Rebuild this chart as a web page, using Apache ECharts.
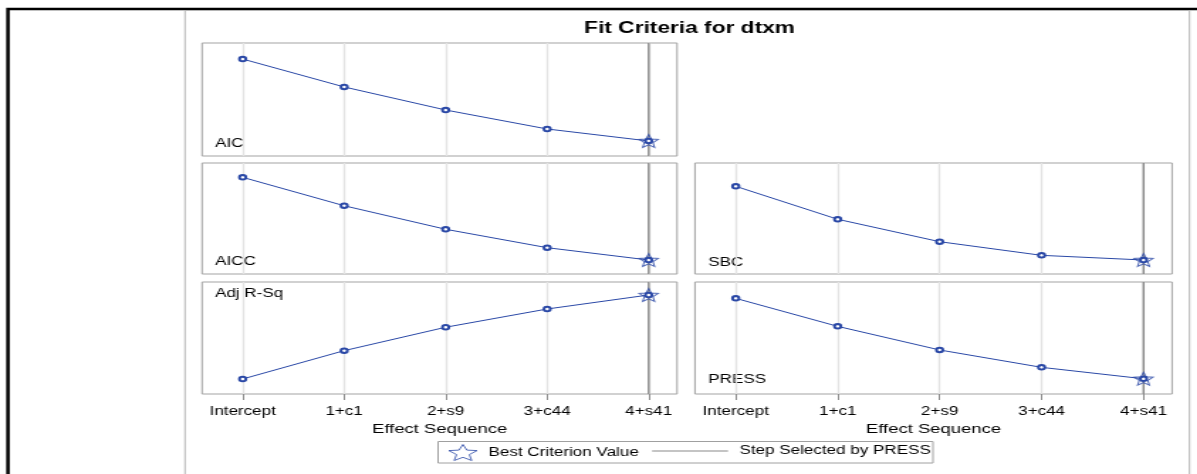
<!DOCTYPE html>
<html>
<head>
<meta charset="utf-8">
<script src="https://cdn.jsdelivr.net/npm/echarts@6/dist/echarts.min.js"></script>
<style>
html, body { margin: 0; padding: 0; background: #fff; overflow: hidden; }
#wrap { width: 1197px; height: 474px; overflow: hidden; }
/* the reference picture is stretched sideways, so the chart is drawn narrow and widened */
#container { width: 843px; height: 474px; transform: scaleX(1.42); transform-origin: 0 0; }
</style>
</head>
<body>
<div id="wrap"><div id="container"></div></div>
<script>
// data (relative scale, no y axis is shown)
var steps = ['Intercept', '1+c1', '2+s9', '3+c44', '4+s41'];
var aicValues = [85.8, 61.1, 40.7, 23.9, 13.3];
var aiccValues = [87.1, 61.5, 40.3, 23.7, 12.6];
var sbcValues = [79.0, 49.3, 29.1, 16.8, 12.6];
var adjRSqValues = [13.4, 38.7, 59.6, 75.9, 88.4];
var pressValues = [85.4, 60.4, 39.3, 23.8, 13.6];

var dom = document.getElementById('container');
var myChart = echarts.init(dom);

var blue = '#2a48a6';
var font = "'Liberation Sans', Arial, sans-serif";
var star = 'path://M50,0L63.2,31.8L97.6,34.5L71.4,57L79.4,90.5L50,72.5L20.6,90.5L28.6,57L2.4,34.5L36.8,31.8Z';

function argBest(arr, useMax) {
    var b = 0;
    for (var i = 1; i < arr.length; i++) {
        if (useMax ? arr[i] > arr[b] : arr[i] < arr[b]) b = i;
    }
    return b;
}
var selected = argBest(pressValues, false);

// panels: label, values, which end is best, position
var panels = [
    { name: 'AIC', values: aicValues, max: false, left: 142.3, top: 43, width: 334.5, height: 113, bottom: false, lx: 151.4, ly: 143.3 },
    { name: 'AICC', values: aiccValues, max: false, left: 142.3, top: 163, width: 334.5, height: 111, bottom: false, lx: 151.4, ly: 261.7 },
    { name: 'SBC', values: sbcValues, max: false, left: 489.4, top: 163, width: 336, height: 111, bottom: false, lx: 498.8, ly: 262.7 },
    { name: 'Adj R-Sq', values: adjRSqValues, max: true, left: 142.3, top: 282, width: 334.5, height: 112, bottom: true, lx: 151.4, ly: 294 },
    { name: 'PRESS', values: pressValues, max: false, left: 489.4, top: 282, width: 336, height: 112, bottom: true, lx: 498.8, ly: 380 }
];

var grids = [], xAxes = [], yAxes = [], series = [];
var graphics = [
    { type: 'rect', shape: { x: 5.6, y: 9, width: 900, height: 600 }, style: { fill: 'none', stroke: '#000', lineWidth: 2.5 }, silent: true },
    { type: 'rect', shape: { x: 130.3, y: 10.5, width: 707.4, height: 500 }, style: { fill: 'none', stroke: '#b4b4b4', lineWidth: 1 }, silent: true },
    { type: 'text', x: 485.6, y: 28.5, style: { text: 'Fit Criteria for dtxm', font: 'bold 16px ' + font, fill: '#000', align: 'center', verticalAlign: 'middle' }, silent: true },
    { type: 'rect', shape: { x: 308.5, y: 441.5, width: 348.5, height: 21.5 }, style: { fill: 'none', stroke: '#a0a0a0', lineWidth: 1 }, silent: true }
];

panels.forEach(function (p, i) {
    grids.push({ left: p.left, top: p.top, width: p.width, height: p.height, show: true, borderColor: '#a3a3a3', borderWidth: 1 });
    xAxes.push({
        gridIndex: i, type: 'value', min: -0.4, max: 4.28,
        axisLine: { show: false },
        axisTick: { show: p.bottom, length: 6, customValues: [0, 1, 2, 3, 4], lineStyle: { color: '#8c8c8c', width: 1 } },
        axisLabel: { show: p.bottom, customValues: [0, 1, 2, 3, 4], formatter: function (v) { return steps[v]; }, color: '#000', fontSize: 12, fontFamily: font, margin: 12 },
        splitLine: { show: true, lineStyle: { color: '#e3e3e3', width: 1.4 } },
        name: p.bottom ? 'Effect Sequence' : '',
        nameLocation: 'middle', nameGap: 29,
        nameTextStyle: { color: '#000', fontSize: 13, fontFamily: font }
    });
    yAxes.push({ gridIndex: i, type: 'value', min: 0, max: 100, show: false });

    series.push({
        type: 'line', name: 'Step Selected by PRESS', xAxisIndex: i, yAxisIndex: i,
        data: [[selected, 0], [selected, 100]], symbol: 'none', silent: true, z: 2,
        lineStyle: { color: '#8a8a8a', width: 1.4 }, itemStyle: { color: '#8a8a8a' }
    });
    series.push({
        type: 'line', name: p.name, xAxisIndex: i, yAxisIndex: i, z: 3, silent: true,
        data: p.values.map(function (v, k) { return [k, v]; }),
        symbol: 'emptyCircle', symbolSize: 4.5, clip: false,
        lineStyle: { color: blue, width: 1 }, itemStyle: { color: blue, borderWidth: 0.9 }
    });
    var b = argBest(p.values, p.max);
    series.push({
        type: 'scatter', name: 'Best Criterion Value', xAxisIndex: i, yAxisIndex: i, z: 4, silent: true,
        data: [[b, p.values[b]]], symbol: star, symbolSize: [13.5, 13], clip: false,
        itemStyle: { color: 'rgba(255,255,255,0)', borderColor: blue, borderWidth: 1 }
    });
    graphics.push({ type: 'text', x: p.lx, y: p.ly, style: { text: p.name, font: '12px ' + font, fill: '#000', verticalAlign: 'middle' }, silent: true });
});

var option = {
    animation: false,
    grid: grids,
    xAxis: xAxes,
    yAxis: yAxes,
    legend: [
        {
            left: 315.5, top: 444, padding: 0, itemWidth: 20, itemHeight: 16, symbolKeepAspect: false,
            selectedMode: false,
            data: [{ name: 'Best Criterion Value', icon: star, itemStyle: { color: 'rgba(255,255,255,0)', borderColor: blue, borderWidth: 1 } }],
            textStyle: { color: '#000', fontSize: 12, fontFamily: font, padding: [0, 0, 0, 3] }
        },
        {
            left: 459.2, top: 445, padding: 0, itemWidth: 53.5, itemHeight: 1,
            selectedMode: false,
            data: [{ name: 'Step Selected by PRESS', icon: 'rect', itemStyle: { color: '#8a8a8a' } }],
            textStyle: { color: '#000', fontSize: 12, fontFamily: font, padding: [0, 0, 0, 3] }
        }
    ],
    graphic: graphics,
    series: series
};

myChart.setOption(option);
</script>
</body>
</html>
